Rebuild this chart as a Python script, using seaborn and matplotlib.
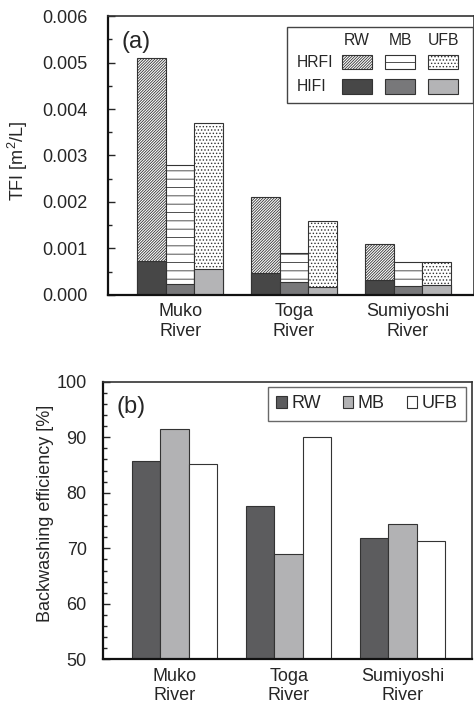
import numpy as np
import pandas as pd
import seaborn as sns
import matplotlib.pyplot as plt
from matplotlib.patches import Rectangle
from matplotlib.ticker import MultipleLocator

# data
rivers = ["Muko\nRiver", "Toga\nRiver", "Sumiyoshi\nRiver"]
waters = ["RW", "MB", "UFB"]

# (a) fouling index, per river: RW, MB, UFB
hifi_muko = [0.00073, 0.00024, 0.00055]
hifi_toga = [0.00048, 0.00028, 0.00017]
hifi_sumi = [0.00032, 0.00019, 0.00021]
hrfi_muko = [0.00437, 0.00256, 0.00315]
hrfi_toga = [0.00162, 0.00062, 0.00143]
hrfi_sumi = [0.00078, 0.00051, 0.00049]

# (b) backwashing efficiency [%]
eff_muko = [85.7, 91.4, 85.1]
eff_toga = [77.6, 68.9, 90.0]
eff_sumi = [71.8, 74.3, 71.4]

hifi_colors = ["#474747", "#78787a", "#b4b4b6"]
eff_colors = ["#5c5c5e", "#b2b2b4", "#ffffff"]
hatches = ["////////////", "--", "....."]
hatch_cols = ["#5a5a5a", "#555555", "#777777"]

rows = []
for r, hi, hr, ef in zip(rivers, [hifi_muko, hifi_toga, hifi_sumi],
                         [hrfi_muko, hrfi_toga, hrfi_sumi],
                         [eff_muko, eff_toga, eff_sumi]):
    for w, a, b, e in zip(waters, hi, hr, ef):
        rows.append({"river": r, "water": w, "hifi": a, "hrfi": b, "eff": e})
df = pd.DataFrame(rows)
df["total"] = df["hifi"] + df["hrfi"]

sns.set_style("white")
plt.rcParams["font.family"] = ["Liberation Sans", "DejaVu Sans"]
plt.rcParams["hatch.linewidth"] = 0.6
plt.rcParams["hatch.color"] = "#6a6a6a"


def hatch_it(p, h, c):
    p.set_hatch(h)
    try:
        p.set_hatchcolor(c)
    except AttributeError:
        pass


fig = plt.figure(figsize=(4.74, 7.06), dpi=100)
ax1 = fig.add_axes([0.228, 0.5822, 0.772, 0.3951])
ax2 = fig.add_axes([0.218, 0.0661, 0.777, 0.3932])

edge = "#333333"

##### (a) stacked TFI
sns.barplot(data=df, x="river", y="total", hue="water", width=0.75,
            palette=["#ffffff"] * 3, edgecolor=edge, linewidth=0.8,
            errorbar=None, legend=False, ax=ax1)
for cont, h, c in zip(ax1.containers, hatches, hatch_cols):
    for p in cont:
        hatch_it(p, h, c)
sns.barplot(data=df, x="river", y="hifi", hue="water", width=0.75,
            palette=hifi_colors, edgecolor=edge, linewidth=0.8,
            errorbar=None, legend=False, ax=ax1)

ax1.set_ylim(0, 0.006)
ax1.set_xlim(-0.632, 2.58)
ax1.yaxis.set_major_locator(MultipleLocator(0.001))
ax1.yaxis.set_minor_locator(MultipleLocator(0.0005))
ax1.yaxis.set_major_formatter(plt.FormatStrFormatter("%.3f"))
ax1.set_xlabel("")
ax1.set_ylabel("TFI [m$^{\\mathregular{2}}$/L]", fontsize=13)
ax1.yaxis.set_label_coords(-0.213, 0.48)
ax1.text(0.037, 0.908, "(a)", transform=ax1.transAxes, fontsize=17,
         va="center", ha="left")

# table style legend
ax1.add_patch(Rectangle((0.489, 0.687), 0.508, 0.275, transform=ax1.transAxes,
                        facecolor="white", edgecolor="#444444", lw=1.0, zorder=5))
col_x = [0.639, 0.757, 0.875]
for x, w, hc, h, c in zip(col_x, waters, hifi_colors, hatches, hatch_cols):
    ax1.text(x + 0.041, 0.911, w, transform=ax1.transAxes, fontsize=11.3,
             ha="center", va="center", zorder=6)
    hp = Rectangle((x, 0.809), 0.082, 0.051, transform=ax1.transAxes,
                   facecolor="white", edgecolor=edge, lw=0.8, zorder=6)
    hatch_it(hp, h, c)
    ax1.add_patch(hp)
    ax1.add_patch(Rectangle((x, 0.720), 0.082, 0.054, transform=ax1.transAxes,
                            facecolor=hc, edgecolor=edge, lw=0.8, zorder=6))
ax1.text(0.515, 0.833, "HRFI", transform=ax1.transAxes, fontsize=11.3,
         ha="left", va="center", zorder=6)
ax1.text(0.515, 0.747, "HIFI", transform=ax1.transAxes, fontsize=11.3,
         ha="left", va="center", zorder=6)

##### (b) backwashing efficiency
sns.barplot(data=df, x="river", y="eff", hue="water", width=0.75,
            palette=eff_colors, edgecolor=edge, linewidth=0.8,
            errorbar=None, ax=ax2)
ax2.set_ylim(50, 100)
ax2.set_xlim(-0.626, 2.605)
ax2.yaxis.set_major_locator(MultipleLocator(10))
ax2.yaxis.set_minor_locator(MultipleLocator(2))
ax2.set_xlabel("")
ax2.set_ylabel("Backwashing efficiency [%]", fontsize=13)
ax2.yaxis.set_label_coords(-0.135, 0.526)
ax2.text(0.036, 0.91, "(b)", transform=ax2.transAxes, fontsize=17,
         va="center", ha="left")
leg = ax2.legend(loc="upper right", bbox_to_anchor=(0.985, 0.98), ncol=3,
                 fontsize=13, frameon=True, fancybox=False, borderaxespad=0,
                 handlelength=0.6, handleheight=0.6, handletextpad=0.25,
                 columnspacing=1.2, borderpad=0.45, title=None)
leg.get_frame().set_edgecolor("#444444")
leg.get_frame().set_linewidth(1.0)

for ax, pad in [(ax1, 15), (ax2, 12)]:
    ax.tick_params(axis="y", which="major", direction="in", length=5, width=1,
                   labelsize=13, pad=pad, left=True)
    ax.tick_params(axis="y", which="minor", direction="in", length=3, width=1,
                   left=True)
    ax.tick_params(axis="x", length=0, labelsize=13, pad=6)
    for s in ["left", "bottom"]:
        ax.spines[s].set_color("#111111")
        ax.spines[s].set_linewidth(1.6)
    for s in ["top", "right"]:
        ax.spines[s].set_color("#333333")
        ax.spines[s].set_linewidth(1.2)

plt.savefig("out.png", dpi=100)
